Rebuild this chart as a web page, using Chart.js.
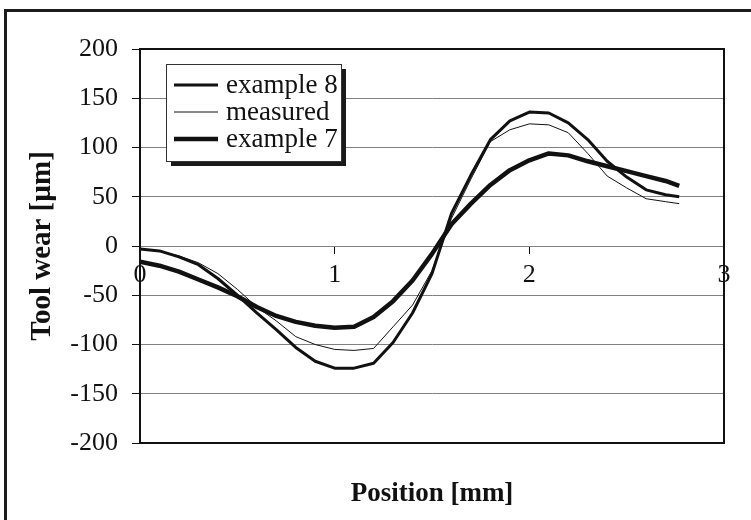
<!DOCTYPE html>
<html>
<head>
<meta charset="utf-8">
<title>Tool wear</title>
<script src="https://cdn.jsdelivr.net/npm/chart.js@4.4.1/dist/chart.umd.min.js"></script>
<style>
  html, body { margin: 0; padding: 0; background: #fff; overflow: hidden; }
  #wrap { position: relative; width: 751px; height: 520px; }
  #frame { position: absolute; left: 4px; top: 9px; width: 800px; height: 600px;
           border-left: 3px solid #1c1c1c; border-top: 3px solid #1c1c1c; pointer-events: none; }
</style>
</head>
<body>
<div id="wrap">
  <canvas id="wearChart"></canvas>
  <div id="frame"></div>
</div>
<script>
// values (position in mm, wear in µm)
const positions = [0, 0.1, 0.2, 0.3, 0.4, 0.5, 0.6, 0.7, 0.8, 0.9, 1.0, 1.1, 1.2, 1.3, 1.4,
                   1.5, 1.6, 1.7, 1.8, 1.9, 2.0, 2.1, 2.2, 2.3, 2.4, 2.5, 2.6, 2.7, 2.77];
const example8 = [-3, -5, -11, -19, -33, -50, -68, -85, -103, -117, -124, -124, -119, -98, -68,
                  -28, 33, 72, 108, 127, 136, 135, 125, 108, 86, 70, 57, 52, 50];
const measured = [-3, -5, -10, -17, -28, -44, -62, -76, -92, -100, -105, -106, -104, -82, -60,
                  -25, 28, 68, 106, 118, 124, 123, 115, 94, 71, 59, 48, 45, 43];
const example7 = [-16, -20, -26, -34, -42, -51, -62, -71, -77, -81, -83, -82, -72, -56, -35,
                  -8, 22, 43, 62, 77, 87, 94, 92, 86, 81, 76, 71, 66, 61];
const xTicks = [0, 1, 2, 3];
const yTicks = [-200, -150, -100, -50, 0, 50, 100, 150, 200];

const serif = '"Liberation Serif", "Times New Roman", serif';

function toPoints(values) {
  return positions.map((x, i) => ({ x: x, y: values[i] }));
}

// black frame round the plot area
const plotFrame = {
  id: 'plotFrame',
  afterDraw(chart) {
    const a = chart.chartArea;
    const ctx = chart.ctx;
    ctx.save();
    ctx.strokeStyle = '#111';
    ctx.lineWidth = 2;
    ctx.strokeRect(a.left, a.top, a.right - a.left, a.bottom - a.top);
    ctx.restore();
  }
};

// boxed legend with drop shadow, inside the plot
const boxLegend = {
  id: 'boxLegend',
  afterDraw(chart) {
    const a = chart.chartArea;
    const ctx = chart.ctx;
    const x = a.left + 26, y = a.top + 15, w = 175, h = 97;
    ctx.save();
    ctx.fillStyle = '#1a1a1a';
    ctx.fillRect(x + 5, y + 5, w, h);
    ctx.fillStyle = '#fff';
    ctx.fillRect(x, y, w, h);
    ctx.strokeStyle = '#333';
    ctx.lineWidth = 1;
    ctx.strokeRect(x + 0.5, y + 0.5, w, h);
    ctx.font = '27px ' + serif;
    ctx.textBaseline = 'middle';
    ctx.fillStyle = '#111';
    chart.data.datasets.forEach((ds, i) => {
      const ry = y + 21 + i * 27;
      ctx.strokeStyle = ds.borderColor;
      ctx.lineWidth = ds.borderWidth;
      ctx.beginPath();
      ctx.moveTo(x + 8, ry);
      ctx.lineTo(x + 52, ry);
      ctx.stroke();
      ctx.fillText(ds.label, x + 60, ry + 1);
    });
    ctx.restore();
  }
};

new Chart(document.getElementById('wearChart'), {
  type: 'line',
  data: {
    datasets: [
      { label: 'example 8', data: toPoints(example8), borderColor: '#111', borderWidth: 3 },
      { label: 'measured', data: toPoints(measured), borderColor: '#111', borderWidth: 1 },
      { label: 'example 7', data: toPoints(example7), borderColor: '#111', borderWidth: 4.5 }
    ]
  },
  options: {
    responsive: true,
    maintainAspectRatio: false,
    animation: false,
    layout: { padding: { left: 10, top: 49, right: 27, bottom: 0 } },
    elements: {
      point: { radius: 0 },
      line: { tension: 0, borderJoinStyle: 'round', fill: false }
    },
    plugins: {
      legend: { display: false },
      tooltip: { enabled: false }
    },
    scales: {
      x: {
        type: 'linear',
        position: { y: 0 },
        min: 0,
        max: 3,
        afterBuildTicks: (scale) => { scale.ticks = xTicks.map(v => ({ value: v })); },
        ticks: { color: '#111', padding: 6, font: { family: serif, size: 26 } },
        grid: { drawOnChartArea: false, drawTicks: true, tickLength: 8, tickColor: '#111' },
        border: { display: false }
      },
      xTitle: {
        type: 'linear',
        position: 'bottom',
        min: 0,
        max: 3,
        afterFit: (scale) => { scale.height = 77; },
        ticks: { display: false },
        grid: { display: false },
        border: { display: false },
        title: {
          display: true,
          text: 'Position [mm]',
          color: '#111',
          padding: { top: 0, bottom: 10 },
          font: { family: serif, size: 27, weight: 'bold' }
        }
      },
      y: {
        min: -200,
        max: 200,
        afterFit: (scale) => { scale.width = 130; },
        afterBuildTicks: (scale) => { scale.ticks = yTicks.map(v => ({ value: v })); },
        ticks: { color: '#111', padding: 14, font: { family: serif, size: 26 } },
        grid: { color: '#808080', lineWidth: 1, tickLength: 8, tickColor: '#111' },
        border: { display: true, color: '#111', width: 2 },
        title: {
          display: true,
          text: 'Tool wear [µm]',
          color: '#111',
          padding: { top: 15, bottom: 0 },
          font: { family: serif, size: 29, weight: 'bold' }
        }
      }
    }
  },
  plugins: [plotFrame, boxLegend]
});
</script>
</body>
</html>
